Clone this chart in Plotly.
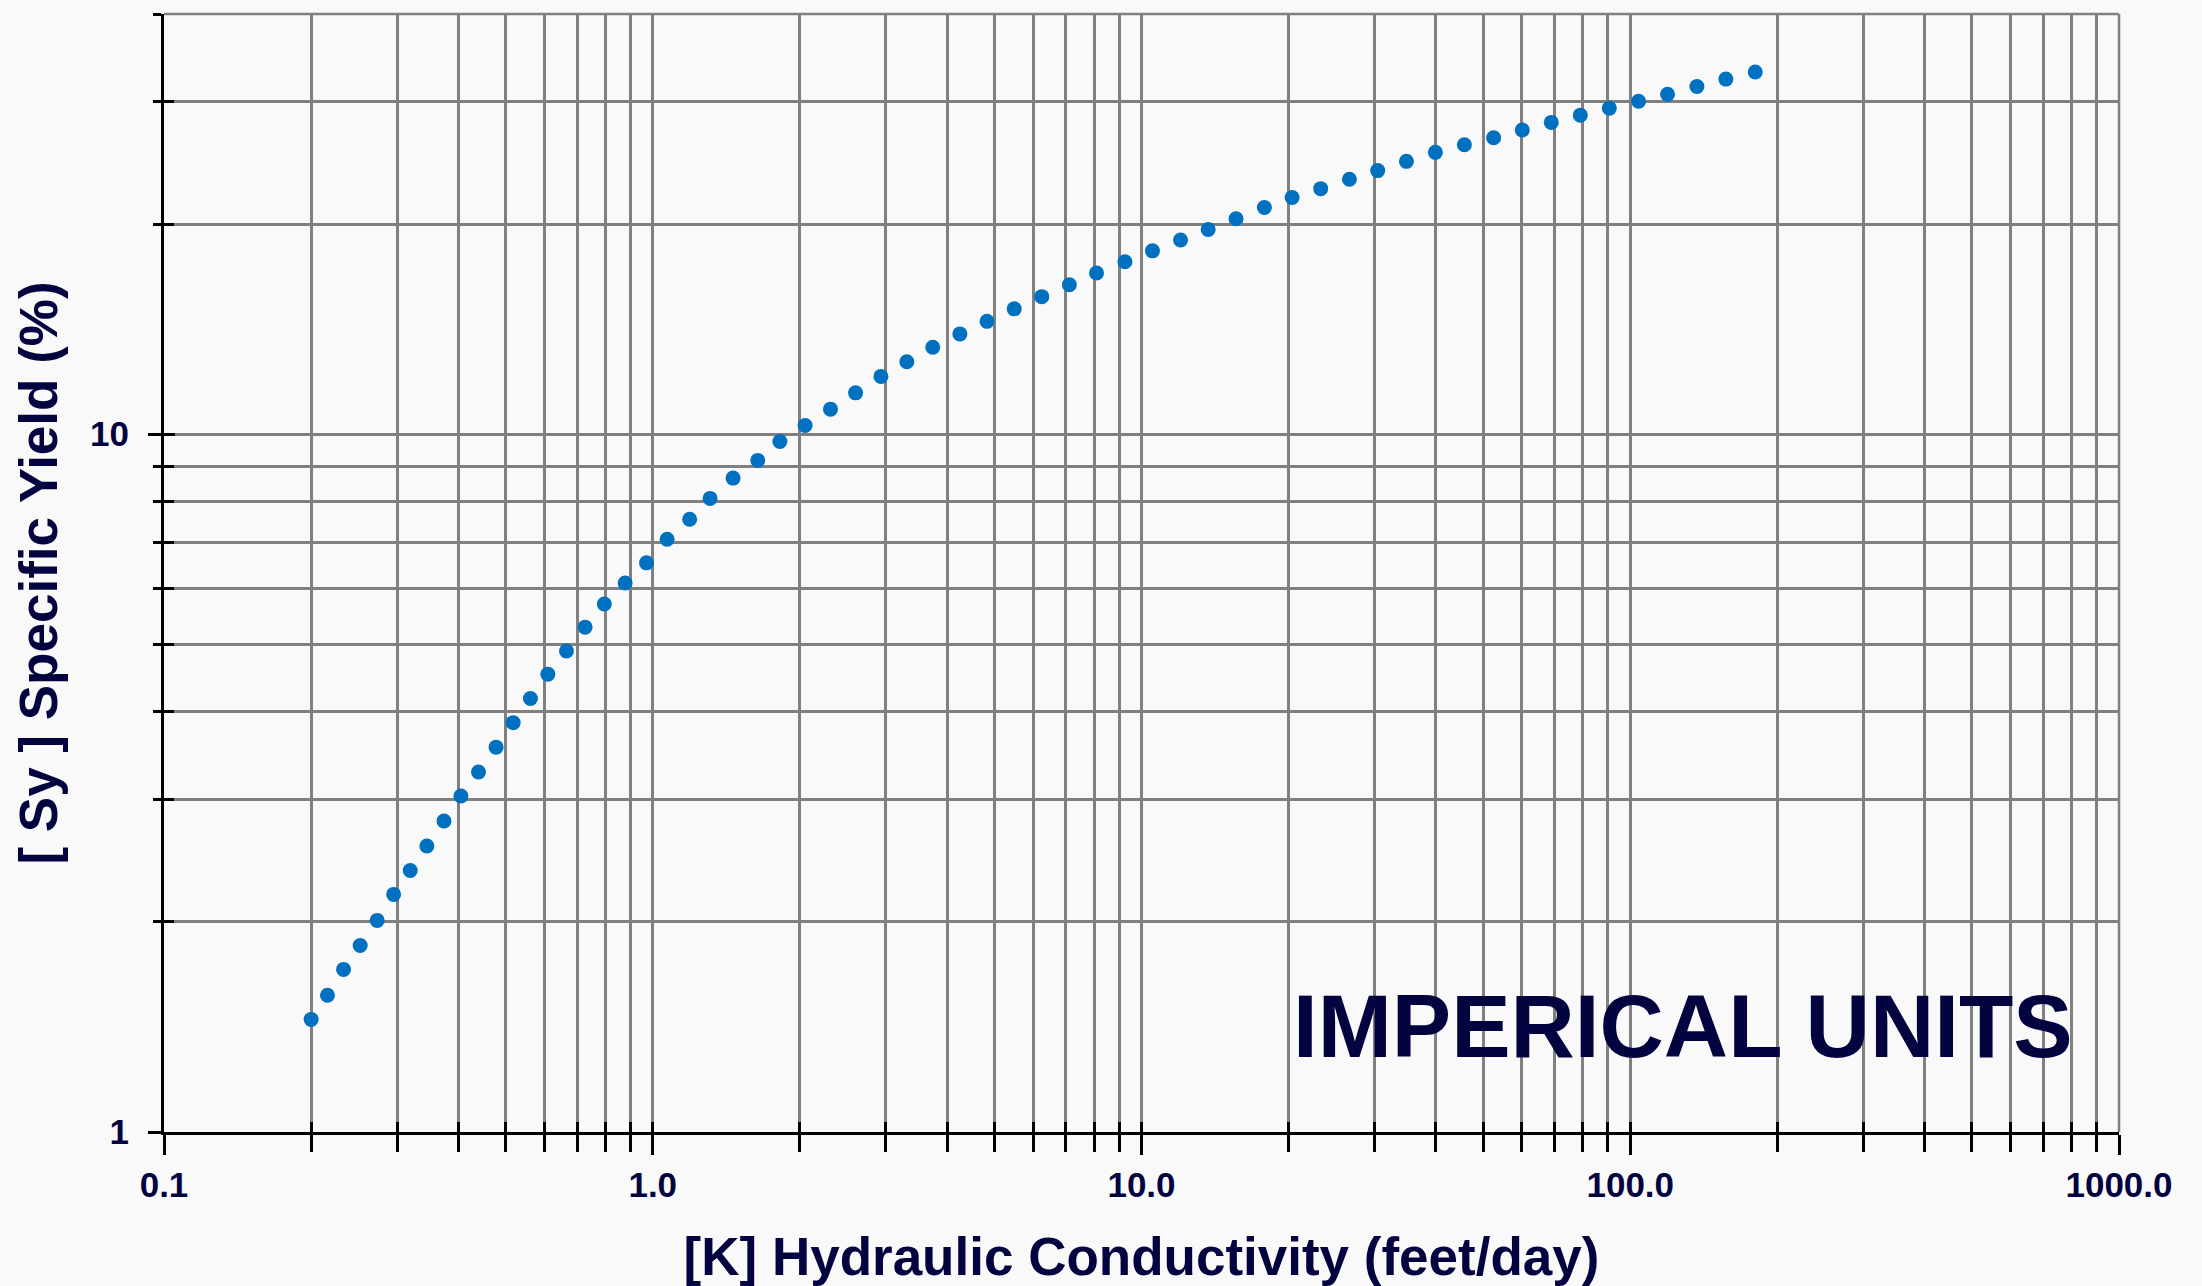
import plotly.graph_objects as go
import math

# ---- data ----
K_FT_DAY = [0.200, 0.216, 0.233, 0.252, 0.273, 0.295, 0.319, 0.345, 0.374, 0.405,
            0.440, 0.478, 0.518, 0.562, 0.610, 0.666, 0.727, 0.796, 0.878, 0.971,
            1.07, 1.19, 1.31, 1.46, 1.64, 1.82, 2.05, 2.31, 2.60, 2.93,
            3.31, 3.74, 4.25, 4.83, 5.49, 6.25, 7.12, 8.09, 9.25, 10.53,
            12.02, 13.69, 15.61, 17.84, 20.33, 23.26, 26.63, 30.43, 34.84, 39.93,
            45.77, 52.54, 60.13, 68.93, 79.03, 90.6, 104.0, 119.2, 136.9, 156.9,
            180.2]
SY_PCT = [1.45, 1.57, 1.71, 1.85, 2.01, 2.19, 2.37, 2.57, 2.79, 3.03,
          3.28, 3.56, 3.86, 4.18, 4.53, 4.89, 5.29, 5.71, 6.12, 6.54,
          7.07, 7.55, 8.09, 8.65, 9.17, 9.76, 10.29, 10.86, 11.46, 12.10,
          12.70, 13.32, 13.92, 14.51, 15.12, 15.74, 16.37, 17.02, 17.66, 18.31,
          18.98, 19.65, 20.35, 21.12, 21.83, 22.48, 23.19, 23.86, 24.6, 25.34,
          25.98, 26.59, 27.28, 27.97, 28.65, 29.32, 30.0, 30.7, 31.49, 32.27,
          33.04]

X_TICKS = [0.1, 1, 10, 100, 1000]
X_TICK_TEXT = ["0.1", "1.0", "10.0", "100.0", "1000.0"]
Y_TICKS = [1, 10]
Y_TICK_TEXT = ["1", "10"]
X_RANGE = [0.1, 1000]
Y_RANGE = [1, 40]
X_MINOR = [m * 10.0 ** e for e in range(-1, 3) for m in range(2, 10)]
Y_MINOR = [m * 10.0 ** e for e in range(0, 2) for m in range(2, 10) if m * 10.0 ** e <= 40]

X_TITLE = "[K] Hydraulic Conductivity (feet/day)"
Y_TITLE = "[ Sy ] Specific Yield (%)"
LABEL = "IMPERICAL UNITS"

# ---- style ----
NAVY = "#03033F"
GRID = "#808080"
BG = "#F9F9F9"
FONT = "Liberation Sans, Arial, sans-serif"
xr = [math.log10(v) for v in X_RANGE]
yr = [math.log10(v) for v in Y_RANGE]

fig = go.Figure()
fig.add_trace(go.Scatter(
    x=K_FT_DAY, y=SY_PCT, mode="markers",
    marker=dict(size=15, color="#0070C0", line=dict(width=0)),
    showlegend=False, hoverinfo="x+y",
))
# empty trace so the overlay axes (inner half of the crossing ticks) exist
fig.add_trace(go.Scatter(x=[], y=[], xaxis="x2", yaxis="y2",
                         showlegend=False, hoverinfo="skip"))

tickfont = dict(family=FONT, size=35, color=NAVY, weight="bold")
titlefont = dict(family=FONT, size=53, color=NAVY, weight="bold")

fig.update_layout(
    width=2202, height=1286,
    margin=dict(l=164, r=83, t=14, b=154),
    paper_bgcolor=BG, plot_bgcolor=BG,
    showlegend=False,
    xaxis=dict(
        type="log", range=xr, automargin=False,
        tickmode="array", tickvals=X_TICKS, ticktext=X_TICK_TEXT,
        ticks="outside", ticklen=20, tickwidth=3, tickcolor="black",
        tickfont=tickfont, ticklabelstandoff=0,
        showline=True, linecolor="black", linewidth=3,
        showgrid=True, gridcolor=GRID, gridwidth=2.5,
        zeroline=False,
        minor=dict(tickmode="array", tickvals=X_MINOR, ticks="outside",
                   ticklen=17, tickwidth=3, tickcolor="black",
                   showgrid=True, gridcolor=GRID, gridwidth=2.5),
        title=dict(text=X_TITLE, font=titlefont, standoff=38),
    ),
    yaxis=dict(
        type="log", range=yr, automargin=False,
        tickmode="array", tickvals=Y_TICKS, ticktext=Y_TICK_TEXT,
        ticks="outside", ticklen=13, tickwidth=3, tickcolor="black",
        tickfont=tickfont, ticklabelstandoff=12,
        showline=True, linecolor="black", linewidth=3,
        showgrid=True, gridcolor=GRID, gridwidth=2.5,
        zeroline=False,
        minor=dict(tickmode="array", tickvals=Y_MINOR, ticks="outside",
                   ticklen=8, tickwidth=3, tickcolor="black",
                   showgrid=True, gridcolor=GRID, gridwidth=2.5),
        title=dict(text=Y_TITLE, font=titlefont, standoff=16),
    ),
    xaxis2=dict(
        type="log", range=xr, overlaying="x", anchor="y2", side="bottom",
        tickmode="array", tickvals=X_TICKS, showticklabels=False,
        ticks="inside", ticklen=10, tickwidth=3, tickcolor="black",
        showline=False, showgrid=False, zeroline=False,
        minor=dict(tickmode="array", tickvals=X_MINOR, ticks="inside",
                   ticklen=10, tickwidth=3, tickcolor="black", showgrid=False),
    ),
    yaxis2=dict(
        type="log", range=yr, overlaying="y", anchor="x2", side="left",
        tickmode="array", tickvals=Y_TICKS, showticklabels=False,
        ticks="inside", ticklen=11, tickwidth=3, tickcolor="black",
        showline=False, showgrid=False, zeroline=False,
        minor=dict(tickmode="array", tickvals=Y_MINOR, ticks="inside",
                   ticklen=10, tickwidth=3, tickcolor="black", showgrid=False),
    ),
    shapes=[
        # top and right frame lines (grey, like the grid)
        dict(type="line", xref="paper", yref="paper", x0=0, x1=1, y0=1, y1=1,
             line=dict(color=GRID, width=2.5), layer="between"),
        dict(type="line", xref="paper", yref="paper", x0=1, x1=1, y0=0, y1=1,
             line=dict(color=GRID, width=2.5), layer="between"),
        # plain panel behind the label, hiding the grid
        dict(type="rect", xref="paper", yref="paper",
             x0=0.571, x1=0.9954, y0=0.017, y1=0.127,
             fillcolor=BG, line=dict(width=0), layer="between"),
    ],
    annotations=[
        dict(text=LABEL, xref="paper", yref="paper", x=0.777, y=0.0944,
             xanchor="center", yanchor="middle", showarrow=False,
             font=dict(family=FONT, size=89, color=NAVY, weight="bold")),
    ],
)

fig.write_html(
    "out.html",
    config={"displayModeBar": False},
    post_script="document.body.style.margin='0px';document.body.style.overflow='hidden';",
)
